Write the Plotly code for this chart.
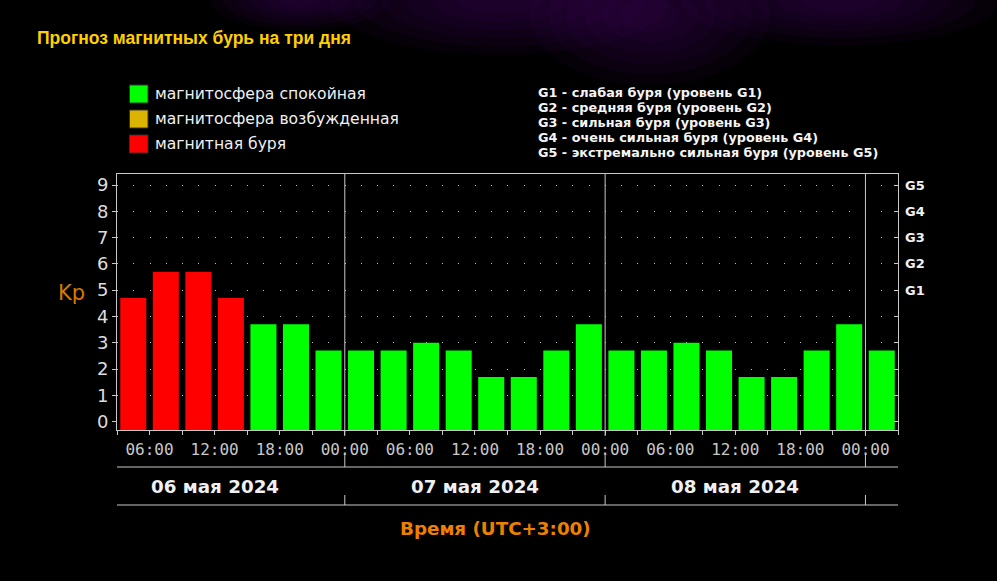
import pandas as pd
import plotly.graph_objects as go

# Kp forecast, 3-hour intervals starting 06 May 2024 03:00 (UTC+3)
START = "2024-05-06 03:00"
KP = [4.7, 5.7, 5.7, 4.7, 3.7, 3.7, 2.7,
      2.7, 2.7, 3.0, 2.7, 1.7, 1.7, 2.7, 3.7,
      2.7, 2.7, 3.0, 2.7, 1.7, 1.7, 2.7, 3.7, 2.7]
STATE = ["storm"] * 4 + ["calm"] * 20
DAYS = ["06 мая 2024", "07 мая 2024", "08 мая 2024"]
DAY_NOON = ["2024-05-06 12:00", "2024-05-07 12:00", "2024-05-08 12:00"]
DAY_EDGES = ["2024-05-07 00:00", "2024-05-08 00:00", "2024-05-09 00:00"]
G_LABELS = ["G1", "G2", "G3", "G4", "G5"]
G_TEXT = [
    "G1 - слабая буря (уровень G1)",
    "G2 - средняя буря (уровень G2)",
    "G3 - сильная буря (уровень G3)",
    "G4 - очень сильная буря (уровень G4)",
    "G5 - экстремально сильная буря (уровень G5)",
]
LEGEND = [("магнитосфера спокойная", "#00ff00"),
          ("магнитосфера возбужденная", "#dcb400"),
          ("магнитная буря", "#ff0000")]

COLORS = {"calm": "#00ff00", "excited": "#dcb400", "storm": "#ff0000"}
Y_MIN, Y_MAX = -0.32, 9.42
X_END = "2024-05-09 03:00"
H3 = 3 * 3600 * 1000

# plot area in pixels
L, R, T, B = 117, 898, 174, 430
W, H = 997, 581


def px(xp):
    return (xp - L) / (R - L)


def py(yp):
    return (B - yp) / (B - T)


times = pd.date_range(START, periods=len(KP), freq="3h")
df = pd.DataFrame({"t": times, "kp": KP, "state": STATE})

fig = go.Figure()
# storm bars go on the overlaid right axis (same range) so that the G-axis is drawn
for st, ax in [("calm", "y"), ("storm", "y2")]:
    d = df[df.state == st]
    fig.add_trace(go.Bar(
        x=d.t, y=d.kp - Y_MIN, base=Y_MIN, yaxis=ax,
        xperiod=H3, xperiodalignment="middle", width=H3 * 0.8,
        marker=dict(color=COLORS[st], line_width=0),
        showlegend=False, hoverinfo="skip",
    ))

line_col = "#c8c8c8"
shapes = []

# purple nebula glow behind the title area
for cx, cy, rx, ry in [(500, 0, 170, 55), (650, 15, 120, 70), (840, 0, 160, 45), (300, 0, 90, 30)]:
    for k in range(6):
        f = 1 - k * 0.15
        shapes.append(dict(type="circle", xref="paper", yref="paper", layer="below",
                           x0=px(cx - rx * f), x1=px(cx + rx * f),
                           y0=py(cy - ry * f), y1=py(cy + ry * f),
                           fillcolor="rgba(80,15,130,0.07)", line_width=0))

for e in DAY_EDGES:
    for y0, y1 in [(174, 436), (455, 467), (495, 505)]:
        shapes.append(dict(type="line", xref="x", yref="paper", x0=e, x1=e,
                           y0=py(y0), y1=py(y1), line=dict(color=line_col, width=1)))
for yy in [467, 505]:
    shapes.append(dict(type="line", xref="x", yref="paper", x0=START, x1=X_END,
                       y0=py(yy), y1=py(yy), line=dict(color=line_col, width=1)))

annotations = []
for i, (txt, col) in enumerate(LEGEND):
    yc = 94 + i * 25
    shapes.append(dict(type="rect", xref="paper", yref="paper",
                       x0=px(129.5), x1=px(148), y0=py(yc - 9), y1=py(yc + 9),
                       fillcolor=col, line=dict(color="#333", width=1)))
    annotations.append(dict(xref="paper", yref="paper", x=px(153), y=py(yc),
                            xanchor="left", yanchor="middle", text=txt, showarrow=False,
                            font=dict(family="DejaVu Sans", size=15.6, color="#f0f0f0")))

for i, txt in enumerate(G_TEXT):
    annotations.append(dict(xref="paper", yref="paper", x=px(536), y=py(92 + i * 15),
                            xanchor="left", yanchor="middle", showarrow=False,
                            text="<b>%s</b>" % txt,
                            font=dict(family="DejaVu Sans", size=12.8, color="#f4f4f4")))

for lbl, x in zip(DAYS, DAY_NOON):
    annotations.append(dict(xref="x", yref="paper", x=x, y=py(486), showarrow=False,
                            xanchor="center", yanchor="middle",
                            text="<b>%s</b>" % lbl,
                            font=dict(family="DejaVu Sans", size=18.3, color="#f0f0f0")))

annotations.append(dict(xref="paper", yref="paper", x=px(495), y=py(528), showarrow=False,
                        xanchor="center", yanchor="middle",
                        text="<b>Время (UTC+3:00)</b>",
                        font=dict(family="DejaVu Sans", size=18.3, color="#ee8000")))
annotations.append(dict(xref="paper", yref="paper", x=px(71), y=py(293), showarrow=False,
                        xanchor="center", yanchor="middle",
                        text="Kp",
                        font=dict(family="DejaVu Sans", size=21, color="#d87800")))

fig.update_layout(
    width=W, height=H,
    margin=dict(l=L, r=W - R, t=T, b=H - B),
    paper_bgcolor="#000", plot_bgcolor="#000",
    barmode="overlay",
    title=dict(text="<b>Прогноз магнитных бурь на три дня</b>",
               x=37 / W, xref="container", xanchor="left",
               y=1 - 38 / H, yref="container", yanchor="middle",
               font=dict(family="Liberation Sans", size=17.5, color="#ffd000")),
    xaxis=dict(type="date", range=[START, X_END],
               tick0="2024-05-06 00:00", dtick=2 * H3, tickformat="%H:%M",
               ticks="outside", ticklen=4, tickcolor=line_col,
               minor=dict(dtick=H3, ticks="outside", ticklen=4, tickcolor=line_col),
               showgrid=False, showline=True, linecolor=line_col, mirror=True,
               tickfont=dict(family="DejaVu Sans Mono", size=16, color="#c8c8c8"),
               ticklabelstandoff=1),
    yaxis=dict(range=[Y_MIN, Y_MAX], tickvals=list(range(10)),
               ticks="outside", ticklen=4, tickcolor=line_col,
               showline=True, linecolor=line_col, mirror=True,
               showgrid=True, gridcolor="#bbbbbb", gridwidth=1, griddash="1px,15.26px",
               zeroline=True, zerolinecolor="rgba(0,0,0,0)",
               tickfont=dict(family="DejaVu Sans", size=18, color="#dcdcdc")),
    yaxis2=dict(range=[Y_MIN, Y_MAX], overlaying="y", side="right", anchor="x",
                tickvals=list(range(10)),
                ticktext=[""] * 5 + ["<b>%s</b>" % g for g in G_LABELS],
                ticks="inside", ticklen=4, tickcolor=line_col,
                showgrid=False, zeroline=False, showline=False,
                tickfont=dict(family="DejaVu Sans", size=13, color="#f0f0f0"),
                ticklabelstandoff=6),
    shapes=shapes,
    annotations=annotations,
)

fig.write_html("out.html",
               config={"displayModeBar": False},
               post_script="document.body.style.margin='0';"
                           "document.body.style.background='#000';"
                           "document.body.style.overflow='hidden';")
